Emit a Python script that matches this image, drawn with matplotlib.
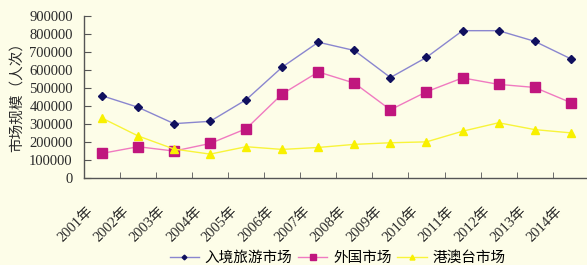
import numpy as np
import matplotlib.pyplot as plt
import matplotlib.transforms as mtransforms

plt.rcParams['font.family'] = ['Liberation Serif', 'Noto Sans CJK SC']

years = ['2001年', '2002年', '2003年', '2004年', '2005年', '2006年', '2007年',
         '2008年', '2009年', '2010年', '2011年', '2012年', '2013年', '2014年']
inbound = [457000, 393000, 302000, 315000, 435000, 616000, 754000,
           708000, 558000, 670000, 818000, 818000, 759000, 662000]
foreign = [137000, 174000, 150000, 192000, 274000, 467000, 589000,
           527000, 379000, 479000, 556000, 520000, 503000, 419000]
hk_mo_tw = [333000, 234000, 161000, 133000, 174000, 159000, 170000,
            187000, 196000, 201000, 260000, 307000, 269000, 251000]
y_ticks = np.arange(0, 900001, 100000)

bg = '#FDFDE8'
x = np.arange(len(years))

fig = plt.figure(figsize=(5.87, 2.65), dpi=100, facecolor=bg)
ax = fig.add_axes([0.143, 0.328, 0.86, 0.612], facecolor=bg)

ax.plot(x, inbound, color='#8a86cf', lw=1.0, marker='D', ms=4,
        mfc='#10105e', mec='#10105e', label='入境旅游市场')
ax.plot(x, foreign, color='#f07ac0', lw=1.0, marker='s', ms=6.5,
        mfc='#c0167e', mec='#c0167e', label='外国市场')
ax.plot(x, hk_mo_tw, color='#f8f43a', lw=1.0, marker='^', ms=6,
        mfc='#f8f000', mec='#f8f000', label='港澳台市场')

ax.set_xlim(-0.5, len(years) - 0.5)
ax.set_ylim(0, 900000)
ax.set_yticks(y_ticks)
ax.set_yticklabels([str(v) for v in y_ticks], fontsize=10.5, color='#2a2a2a')

ax.set_xticks(x)
ax.set_xticklabels(years, rotation=45, ha='right', va='top', fontsize=10.5,
                   color='#2a2a2a')
ax.set_xticks(x[:-1] + 0.5, minor=True)
ax.tick_params(axis='x', which='major', length=0, pad=19)
ax.tick_params(axis='x', which='minor', direction='in', length=4, color='#555555')
ax.tick_params(axis='y', direction='in', length=5, color='#555555', pad=8)
shift = mtransforms.ScaledTranslation(-6 / 100, 0, fig.dpi_scale_trans)
for lbl in ax.get_xticklabels():
    lbl.set_transform(lbl.get_transform() + shift)

for side in ['top', 'right']:
    ax.spines[side].set_visible(False)
for side in ['left', 'bottom']:
    ax.spines[side].set_color('#555555')
    ax.spines[side].set_linewidth(1.0)

ax.set_ylabel('市场规模（人次）', fontsize=10.5, family=['Noto Sans CJK SC'],
              color='#2a2a2a')
ax.yaxis.set_label_coords(-0.12, 0.52)

fig.legend(loc='center', bbox_to_anchor=(0.575, 0.027), ncol=3, frameon=False,
           prop={'family': ['Noto Sans CJK SC'], 'size': 10.5},
           handlelength=2.0, handletextpad=0.4, columnspacing=0.4,
           markerscale=0.6)

fig.savefig('out.png', dpi=100, facecolor=bg)
